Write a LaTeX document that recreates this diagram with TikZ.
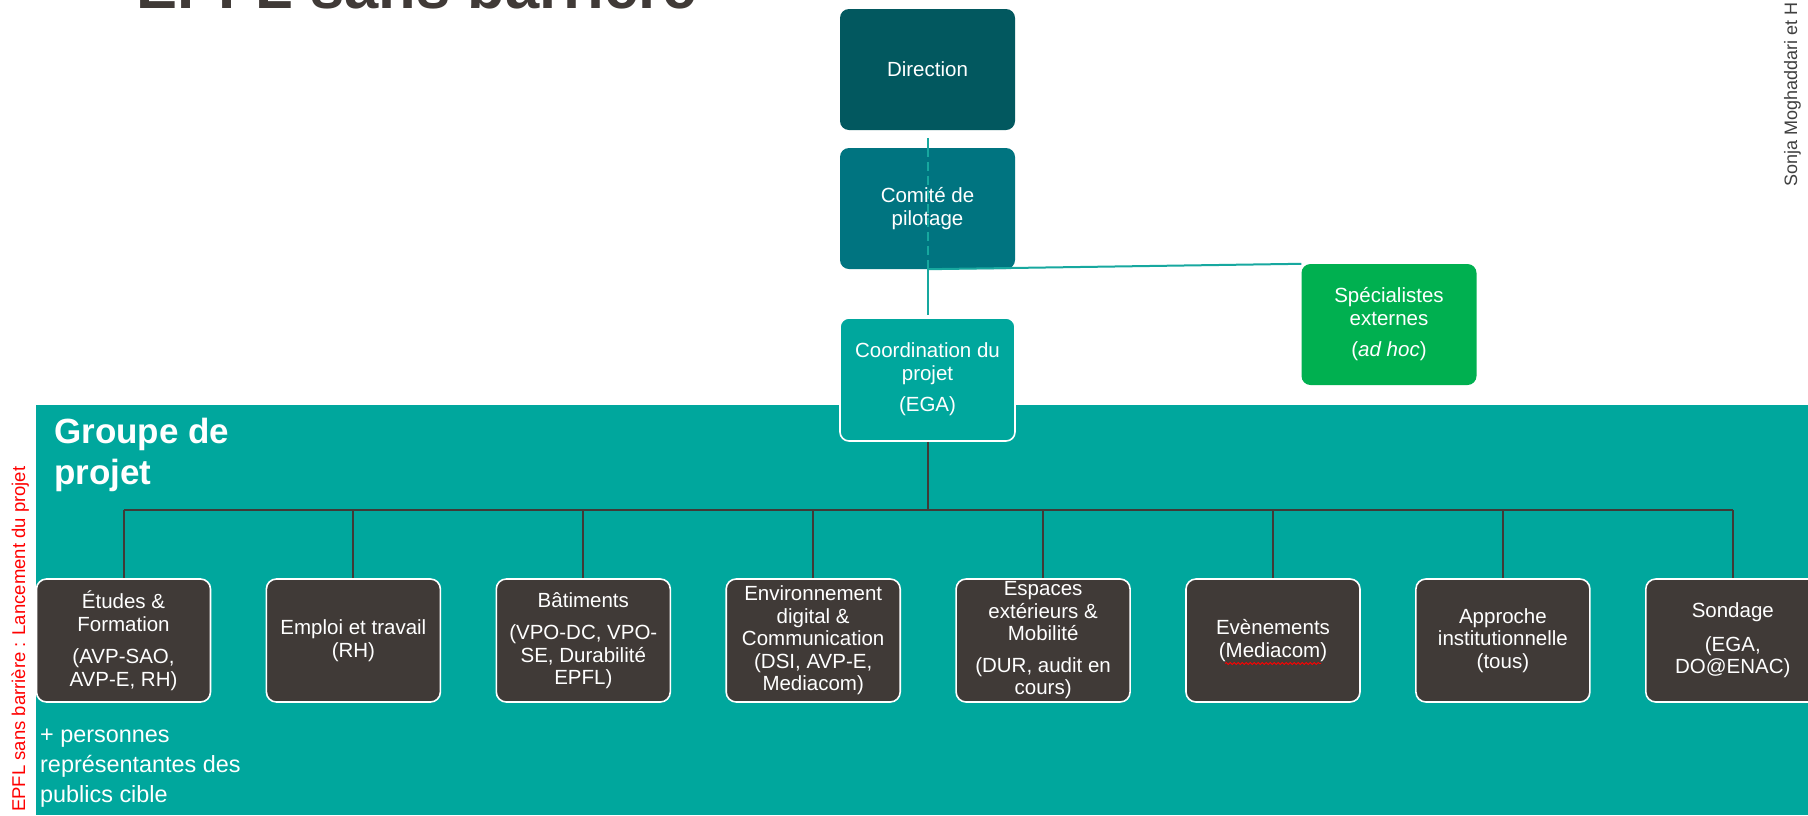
\documentclass[tikz,border=0pt]{standalone}
\usepackage{fontspec}
\setmainfont{Liberation Sans}
\usetikzlibrary{calc,decorations.pathmorphing}
\definecolor{dirc}{HTML}{02585F}
\definecolor{comc}{HTML}{007480}
\definecolor{bandc}{HTML}{00A79D}
\definecolor{greenc}{HTML}{00B050}
\definecolor{darkc}{HTML}{403A37}
\definecolor{linec}{HTML}{17A89F}
\definecolor{grayc}{HTML}{404040}
\begin{document}
\begin{tikzpicture}[x=1pt,y=-1pt,
  topbox/.style={rounded corners=9pt, minimum width=175pt, minimum height=121pt, align=center, text=white, inner sep=1pt, font=\fontsize{20.5}{23}\selectfont},
  grpbox/.style={rounded corners=10pt, draw=white, line width=1.6pt, fill=darkc, minimum width=174pt, minimum height=123pt, align=center, text=white, inner sep=0pt, font=\fontsize{20.5}{22.5}\selectfont},
  tline/.style={draw=linec, line width=2pt},
  bline/.style={draw=darkc, line width=2pt},
  plain/.style={inner sep=0pt, anchor=base west}]
\useasboundingbox (0,0) rectangle (1808,815);
\clip (0,0) rectangle (1808,815);
\fill[white] (0,0) rectangle (1808,815);
% title (cut off at the top, as in the reference)
\node[plain, font=\bfseries\fontsize{61.5}{64}\selectfont, text=darkc] (title) at (136,8) {EPFL sans barrière};
% side texts
\node[plain, rotate=90, font=\fontsize{18.5}{20}\selectfont, text=red] (side) at (25,812) {EPFL sans barrière : Lancement du projet};
\node[plain, rotate=90, font=\fontsize{18}{20}\selectfont, text=grayc] (author) at (1797,187) {Sonja Moghaddari et H};
% band
\fill[bandc] (36,405) rectangle (1808,815);
\node[plain, font=\bfseries\fontsize{35}{40}\selectfont, text=white] (g1) at (54,443) {Groupe de};
\node[plain, font=\bfseries\fontsize{35}{40}\selectfont, text=white] (g2) at (54,484) {projet};
\node[plain, font=\fontsize{23.4}{30}\selectfont, text=white] (p1) at (40,742) {+ personnes};
\node[plain, font=\fontsize{23.4}{30}\selectfont, text=white] (p2) at (40,772) {représentantes des};
\node[plain, font=\fontsize{23.4}{30}\selectfont, text=white] (p3) at (40,802) {publics cible};
% top boxes
\node[topbox, fill=dirc] (dir) at (927.5,69.5) {Direction};
\node[topbox, fill=comc] (com) at (927.5,208.5) {Comité de\\pilotage};
\node[topbox, fill=bandc, draw=white, line width=1.6pt, minimum height=123pt] (coord) at (927.5,379.5) {Coordination du\\projet\\[8pt](EGA)};
\node[topbox, fill=greenc] (spec) at (1389,324.5) {Spécialistes\\externes\\[8pt](\textit{ad hoc})};
% teal connectors
\draw[tline] ($(dir.south)+(0,8)$) -- (com.north);
\draw[tline, dashed, dash pattern=on 9pt off 5pt] (com.north) -- (com.south);
\draw[tline] (com.south) -- ($(coord.north)+(0,-2)$);
\draw[tline] (com.south) -- (spec.north west);
% group boxes
\foreach \i/\t in {1/{Études \&\\Formation\\[10pt](AVP-SAO,\\AVP-E, RH)},
                   2/{Emploi et travail\\(RH)},
                   3/{Bâtiments\\[10pt](VPO-DC, VPO-\\SE, Durabilité\\EPFL)},
                   4/{Environnement\\digital \&\\Communication\\(DSI, AVP-E,\\Mediacom)},
                   5/{Espaces\\extérieurs \&\\Mobilité\\[9pt](DUR, audit en\\cours)},
                   6/{Evènements\\(Mediacom)},
                   7/{Approche\\institutionnelle\\(tous)},
                   8/{Sondage\\[11pt](EGA,\\DO@ENAC)}}
  {\node[grpbox] (b\i) at ({123.5+229.9*(\i-1)},640.5) {\t};}
% spell-check squiggle under "Mediacom"
\draw[red, line width=0.8pt, decorate, decoration={snake, amplitude=1pt, segment length=4pt}]
  ($(b6.center)+(-48,23)$) -- ($(b6.center)+(48,23)$);
% bus
\coordinate (busC) at (927.5,510);
\draw[bline] (coord.south) -- (busC);
\draw[bline] (b1.north |- busC) -- (b8.north |- busC);
\foreach \i in {1,...,8} {\draw[bline] (b\i.north |- busC) -- (b\i.north);}
\end{tikzpicture}
\end{document}
